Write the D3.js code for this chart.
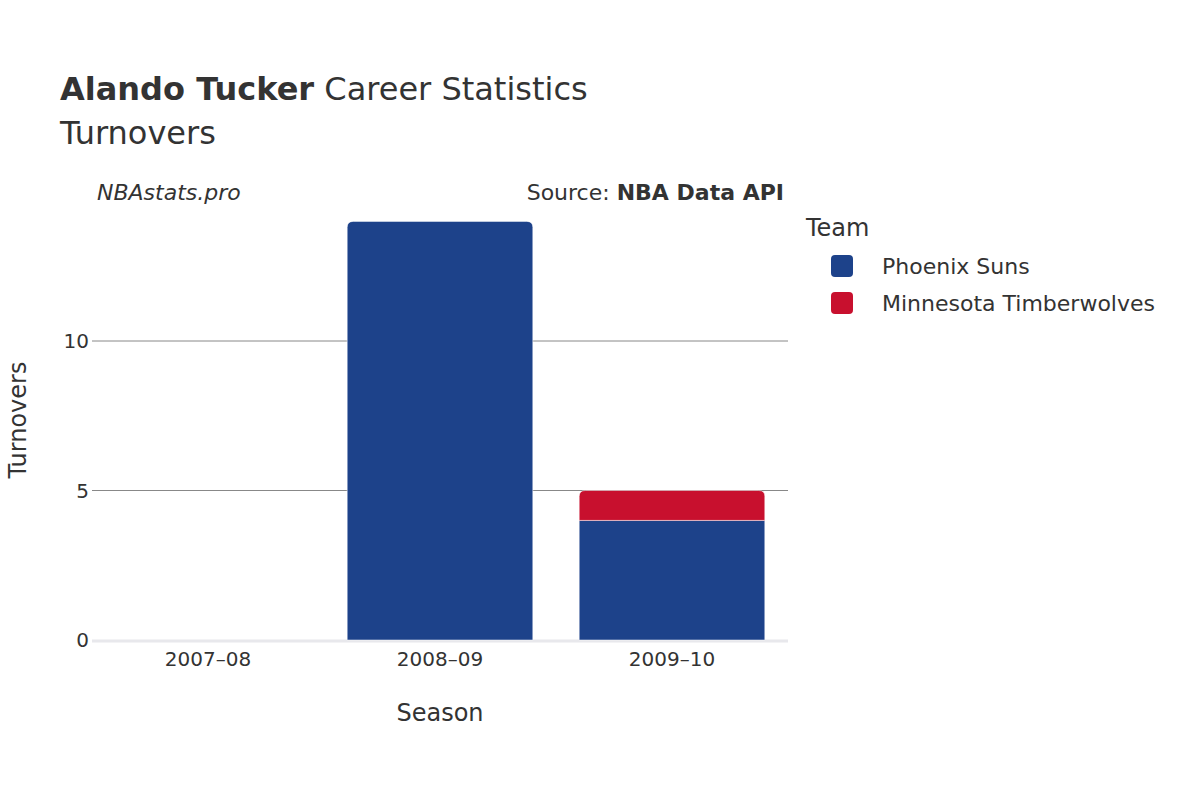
<!DOCTYPE html>
<html><head><meta charset="utf-8">
<script src="https://cdn.jsdelivr.net/npm/d3@7"></script>
<style>body{margin:0;background:#fff}svg{font-family:"DejaVu Sans",sans-serif}</style>
</head><body><svg id="c" width="1200" height="800"></svg>
<script>
const seasons = ['2007–08', '2008–09', '2009–10'];
const teams = ['Phoenix Suns', 'Minnesota Timberwolves'];
const teamColors = ['#1d428a', '#c8102e'];
// turnovers per team per season
const phoenix = [0, 14, 4];
const minnesota = [0, 0, 1];
const yTicks = [0, 5, 10];

const svg = d3.select('#c');
const x = d3.scaleBand().domain(seasons).range([92, 788]).paddingInner(0.2).paddingOuter(0.1);
const y = d3.scaleLinear().domain([0, 14]).range([640, 221.4]);

// gridlines
svg.selectAll('.grid').data(yTicks.filter(d => d > 0)).join('line')
  .attr('x1', 92).attr('x2', 788).attr('y1', d => y(d)).attr('y2', d => y(d))
  .attr('stroke', '#888').attr('stroke-width', 1);
svg.append('line').attr('x1', 92).attr('x2', 788).attr('y1', y(0) + 1).attr('y2', y(0) + 1)
  .attr('stroke', '#e8e8ec').attr('stroke-width', 3);

svg.selectAll('.ytick').data(yTicks).join('text')
  .attr('x', 89).attr('y', d => y(d)).attr('dy', '0.35em').attr('text-anchor', 'end')
  .attr('font-size', 20).attr('fill', '#333').text(d => d);
svg.selectAll('.xtick').data(seasons).join('text')
  .attr('x', d => x(d) + x.bandwidth() / 2).attr('y', 666).attr('text-anchor', 'middle')
  .attr('font-size', 20).attr('fill', '#333').text(d => d);

function topRounded(x0, y0, w, h, r) {
  r = Math.min(r, h, w / 2);
  return `M${x0},${y0 + h}V${y0 + r}Q${x0},${y0} ${x0 + r},${y0}H${x0 + w - r}Q${x0 + w},${y0} ${x0 + w},${y0 + r}V${y0 + h}Z`;
}

const stacks = seasons.map((s, i) => ({s, a: phoenix[i], b: minnesota[i]}));
stacks.forEach(d => {
  const bx = x(d.s), w = x.bandwidth();
  if (d.a > 0) {
    const h = y(0) - y(d.a);
    svg.append('path').attr('d', d.b > 0 ? `M${bx},${y(d.a)}h${w}v${h}h${-w}Z` : topRounded(bx, y(d.a), w, h, 6))
      .attr('fill', teamColors[0]).attr('stroke', '#fff').attr('stroke-width', 0.5);
  }
  if (d.b > 0) {
    const top = y(d.a + d.b);
    svg.append('path').attr('d', topRounded(bx, top, w, y(d.a) - top, 6))
      .attr('fill', teamColors[1]).attr('stroke', '#fff').attr('stroke-width', 0.5);
  }
});

// titles
const t = svg.append('text').attr('x', 60).attr('y', 100).attr('font-size', 32).attr('fill', '#333');
t.append('tspan').attr('font-weight', 'bold').text('Alando Tucker');
t.append('tspan').text(' Career Statistics');
svg.append('text').attr('x', 60).attr('y', 144).attr('font-size', 32).attr('fill', '#333').text('Turnovers');
svg.append('text').attr('x', 97).attr('y', 200).attr('font-size', 22).attr('font-style', 'italic').attr('fill', '#333').text('NBAstats.pro');
const src = svg.append('text').attr('x', 784).attr('y', 200).attr('font-size', 22).attr('text-anchor', 'end').attr('fill', '#333');
src.append('tspan').text('Source: ');
src.append('tspan').attr('font-weight', 'bold').text('NBA Data API');

svg.append('text').attr('x', 440).attr('y', 721).attr('text-anchor', 'middle').attr('font-size', 24).attr('fill', '#333').text('Season');
svg.append('text').attr('transform', 'translate(26,420) rotate(-90)').attr('text-anchor', 'middle').attr('font-size', 24).attr('fill', '#333').text('Turnovers');

// legend
svg.append('text').attr('x', 806).attr('y', 236).attr('font-size', 24).attr('fill', '#333').text('Team');
const lg = svg.selectAll('.lg').data(teams).join('g').attr('transform', (d, i) => `translate(831,${255 + i * 37})`);
lg.append('rect').attr('width', 22).attr('height', 22).attr('rx', 4).attr('fill', (d, i) => teamColors[i]);
lg.append('text').attr('x', 51).attr('y', 11).attr('dy', '0.35em').attr('font-size', 22).attr('fill', '#333').text(d => d);
</script></body></html>
